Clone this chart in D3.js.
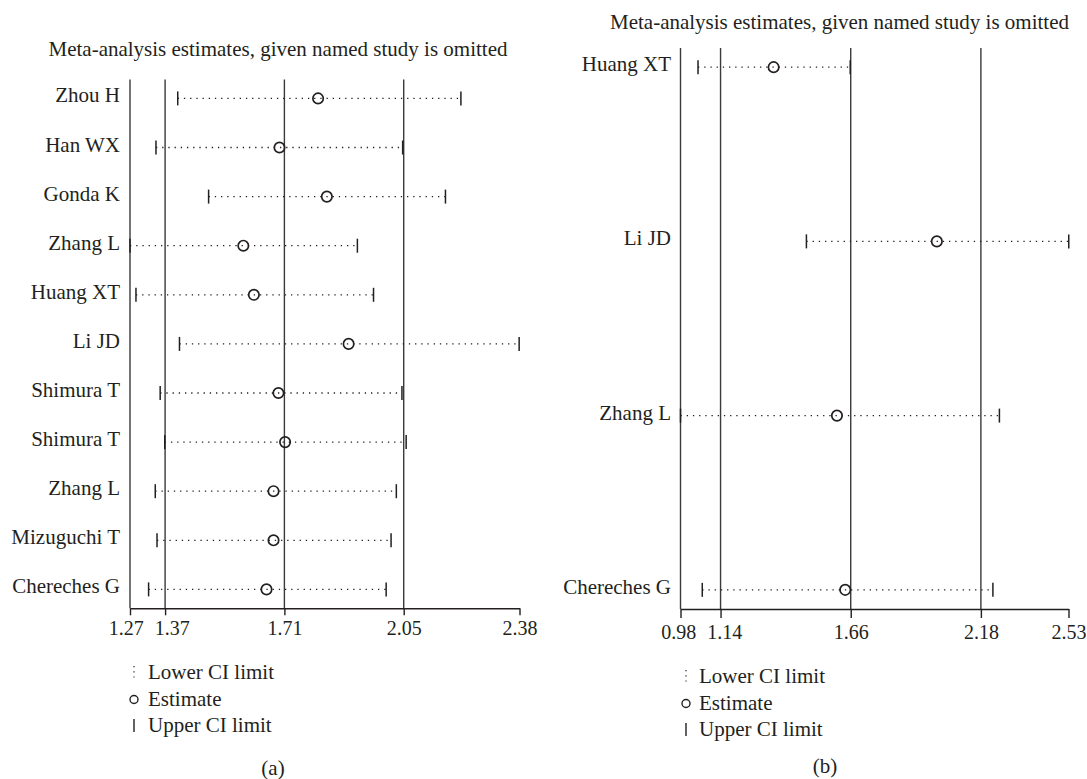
<!DOCTYPE html>
<html>
<head>
<meta charset="utf-8">
<script src="https://cdn.jsdelivr.net/npm/d3@7"></script>
<style>
  body { margin: 0; background: #ffffff; }
  svg text { font-family: "Liberation Serif", "Times New Roman", serif; fill: #231f20; }
</style>
</head>
<body>
<svg id="chart" width="1087" height="779"></svg>
<script>
// ---------- Data: panel (a) ----------
const studiesA = ["Zhou H", "Han WX", "Gonda K", "Zhang L", "Huang XT", "Li JD",
                  "Shimura T", "Shimura T", "Zhang L", "Mizuguchi T", "Chereches G"];
const lowerA = [1.406, 1.344, 1.494, 1.270, 1.287, 1.411, 1.356, 1.369, 1.342, 1.347, 1.323];
const estA   = [1.806, 1.696, 1.831, 1.593, 1.623, 1.893, 1.693, 1.712, 1.679, 1.679, 1.659];
const upperA = [2.213, 2.047, 2.169, 1.918, 1.964, 2.379, 2.045, 2.057, 2.029, 2.014, 2.000];
const ticksA = [1.27, 1.37, 1.71, 2.05, 2.38];

// ---------- Data: panel (b) ----------
const studiesB = ["Huang XT", "Li JD", "Zhang L", "Chereches G"];
const lowerB = [1.050, 1.483, 0.980, 1.067];
const estB   = [1.352, 2.004, 1.605, 1.638];
const upperB = [1.658, 2.531, 2.254, 2.228];
const ticksB = [0.98, 1.14, 1.66, 2.18, 2.53];

const titleText = "Meta-analysis estimates, given named study is omitted";
const legendLabels = ["Lower CI limit", "Estimate", "Upper CI limit"];
const panelLetters = ["(a)", "(b)"];

const svg = d3.select("#chart");
const ink = "#231f20";
const lineInk = "#3a3a3a";

function drawPanel(cfg) {
  const g = svg.append("g");
  const n = cfg.studies.length;
  const idx = d3.range(n);
  const x = d3.scaleLinear().domain([cfg.ticks[0], cfg.ticks[cfg.ticks.length - 1]]).range(cfg.xRange);
  const y = d3.scalePoint().domain(idx).range([cfg.yTop, cfg.axisY]).padding(cfg.pad);

  // title
  g.append("text")
    .attr("x", cfg.titleX).attr("y", cfg.titleY)
    .attr("text-anchor", "middle")
    .style("font-size", "21px")
    .text(titleText);

  // reference vertical lines at every tick except the last
  g.selectAll("line.ref").data(cfg.ticks.slice(0, -1)).join("line")
    .attr("class", "ref")
    .attr("x1", d => x(d)).attr("x2", d => x(d))
    .attr("y1", cfg.yTop).attr("y2", cfg.axisY)
    .attr("stroke", lineInk).attr("stroke-width", 1.4);

  // axis
  const axis = d3.axisBottom(x).tickValues(cfg.ticks).tickFormat(d3.format(".2f"))
    .tickSize(cfg.tickLen).tickSizeOuter(0).tickPadding(cfg.tickPad);
  const ag = g.append("g").attr("transform", `translate(0,${cfg.axisY})`).call(axis);
  ag.select(".domain").attr("stroke", ink).attr("stroke-width", 1.4);
  ag.selectAll(".tick line").attr("stroke", ink).attr("stroke-width", 1.4);
  const tickTexts = ag.selectAll(".tick text").style("font-size", "20px")
    .style("font-family", "'Liberation Serif', 'Times New Roman', serif").attr("fill", ink);

  // spread apart tick labels that would collide
  const nodes = tickTexts.nodes();
  const minGap = 11;
  for (let k = 0; k < nodes.length - 1; k++) {
    const w1 = nodes[k].getComputedTextLength(), w2 = nodes[k + 1].getComputedTextLength();
    const gap = (x(cfg.ticks[k + 1]) - w2 / 2) - (x(cfg.ticks[k]) + w1 / 2);
    if (gap < minGap) {
      const deficit = minGap - gap;
      d3.select(nodes[k]).attr("dx", -deficit * 0.4);
      d3.select(nodes[k + 1]).attr("dx", deficit * 0.6);
    }
  }

  // study labels
  g.selectAll("text.lab").data(idx).join("text")
    .attr("class", "lab")
    .attr("x", cfg.labelX).attr("y", i => y(i) + 4)
    .attr("text-anchor", "end")
    .style("font-size", "21px")
    .text(i => cfg.studies[i]);

  // dotted CI lines
  g.selectAll("line.ci").data(idx).join("line")
    .attr("class", "ci")
    .attr("x1", i => x(cfg.lower[i])).attr("x2", i => x(cfg.upper[i]))
    .attr("y1", i => y(i)).attr("y2", i => y(i))
    .attr("stroke", ink).attr("stroke-width", 1.3)
    .attr("stroke-dasharray", "1.3,4.9");

  // CI end caps
  const caps = idx.flatMap(i => [{ i, v: cfg.lower[i] }, { i, v: cfg.upper[i] }]);
  g.selectAll("line.cap").data(caps).join("line")
    .attr("class", "cap")
    .attr("x1", d => x(d.v)).attr("x2", d => x(d.v))
    .attr("y1", d => y(d.i) - 7).attr("y2", d => y(d.i) + 7)
    .attr("stroke", ink).attr("stroke-width", 1.5);

  // estimates
  g.selectAll("circle.est").data(idx).join("circle")
    .attr("class", "est")
    .attr("cx", i => x(cfg.est[i])).attr("cy", i => y(i))
    .attr("r", 5.2)
    .attr("fill", "none").attr("stroke", ink).attr("stroke-width", 1.7);

  // legend
  const lg = g.append("g");
  const ly = cfg.legendY;
  const sx = cfg.legendSymX;
  lg.append("line")
    .attr("x1", sx).attr("x2", sx).attr("y1", ly[0] - 13).attr("y2", ly[0] + 1)
    .attr("stroke", ink).attr("stroke-width", 1.2).attr("stroke-dasharray", "1.2,4");
  lg.append("circle")
    .attr("cx", sx).attr("cy", ly[1] - 6).attr("r", 4)
    .attr("fill", "none").attr("stroke", ink).attr("stroke-width", 1.4);
  lg.append("line")
    .attr("x1", sx).attr("x2", sx).attr("y1", ly[2] - 13).attr("y2", ly[2])
    .attr("stroke", ink).attr("stroke-width", 1.4);
  lg.selectAll("text").data(legendLabels).join("text")
    .attr("x", cfg.legendTextX).attr("y", (d, k) => ly[k])
    .style("font-size", "21px")
    .text(d => d);

  // panel letter
  g.append("text")
    .attr("x", cfg.letterX).attr("y", cfg.letterY)
    .attr("text-anchor", "middle")
    .style("font-size", "21px")
    .text(cfg.letter);
}

drawPanel({
  studies: studiesA, lower: lowerA, est: estA, upper: upperA, ticks: ticksA,
  xRange: [130, 519.5], yTop: 79.5, axisY: 608.3, pad: 0.385,
  tickLen: 7, tickPad: 6,
  titleX: 278, titleY: 56, labelX: 120,
  legendY: [679, 705.5, 732], legendSymX: 134, legendTextX: 148,
  letter: panelLetters[0], letterX: 273, letterY: 775
});

drawPanel({
  studies: studiesB, lower: lowerB, est: estB, upper: upperB, ticks: ticksB,
  xRange: [680.5, 1068.5], yTop: 48, axisY: 609, pad: 0.11,
  tickLen: 9, tickPad: 7,
  titleX: 839.5, titleY: 28.5, labelX: 671,
  legendY: [683, 709.5, 736], legendSymX: 686, legendTextX: 699,
  letter: panelLetters[1], letterX: 825, letterY: 773
});
</script>
</body>
</html>
